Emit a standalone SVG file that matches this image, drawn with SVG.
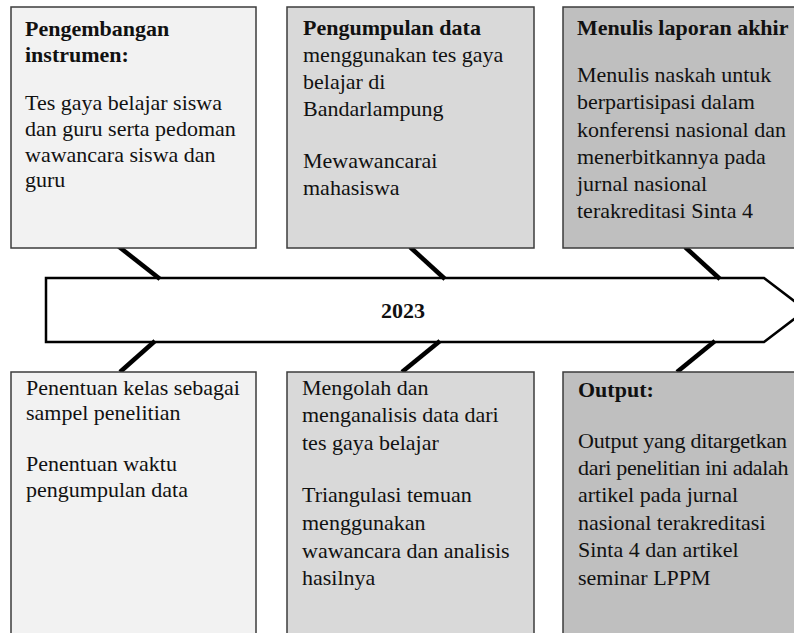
<svg xmlns="http://www.w3.org/2000/svg" width="794" height="633" viewBox="0 0 794 633">
<style>
  .box{stroke:#3c3c3c;stroke-width:1.5}
  .b1{fill:#f2f2f2}.b2{fill:#d9d9d9}.b3{fill:#bfbfbf}
  text{font-family:"Liberation Serif","Times New Roman",serif;font-size:22px;fill:#111}
  .h{font-weight:bold}
  .conn line{stroke:#000;stroke-width:4.5}
</style>
<rect width="794" height="633" fill="#fff"/>
<g id="arrow">
  <polygon points="46,278 764,278 806,310 764,342 46,342" fill="#fff" stroke="#000" stroke-width="2.5" stroke-linejoin="miter"/>
  <text x="403" y="318" text-anchor="middle" class="h">2023</text>
</g>
<g class="conn" id="connectors">
  <line x1="118" y1="246" x2="160" y2="279"/>
  <line x1="410" y1="247" x2="445" y2="279"/>
  <line x1="685" y1="247" x2="720" y2="279"/>
  <line x1="155" y1="341" x2="120" y2="372"/>
  <line x1="440" y1="341" x2="402" y2="372"/>
  <line x1="715" y1="341" x2="677" y2="372"/>
</g>
<g id="top1">
  <rect class="box b1" x="11" y="7" width="245" height="241"/>
  <text class="h" x="25" y="36">Pengembangan</text>
  <text class="h" x="25" y="62">instrumen:</text>
  <text x="25" y="110">Tes gaya belajar siswa</text>
  <text x="25" y="136">dan guru serta pedoman</text>
  <text x="25" y="162">wawancara siswa dan</text>
  <text x="25" y="187">guru</text>
</g>
<g id="top2">
  <rect class="box b2" x="287" y="7" width="247" height="241"/>
  <text class="h" x="303" y="35">Pengumpulan data</text>
  <text x="303" y="62">menggunakan tes gaya</text>
  <text x="303" y="89">belajar di</text>
  <text x="303" y="116">Bandarlampung</text>
  <text x="303" y="168">Mewawancarai</text>
  <text x="303" y="195">mahasiswa</text>
</g>
<g id="top3">
  <rect class="box b3" x="563" y="7" width="240" height="241"/>
  <text class="h" x="577" y="35">Menulis laporan akhir</text>
  <text x="577" y="82">Menulis naskah untuk</text>
  <text x="577" y="109">berpartisipasi dalam</text>
  <text x="577" y="137">konferensi nasional dan</text>
  <text x="577" y="164">menerbitkannya pada</text>
  <text x="577" y="191">jurnal nasional</text>
  <text x="577" y="218">terakreditasi Sinta 4</text>
</g>
<g id="bottom1">
  <rect class="box b1" x="11" y="372" width="245" height="270"/>
  <text x="26" y="395">Penentuan kelas sebagai</text>
  <text x="26" y="420">sampel penelitian</text>
  <text x="26" y="471">Penentuan waktu</text>
  <text x="26" y="497">pengumpulan data</text>
</g>
<g id="bottom2">
  <rect class="box b2" x="287" y="372" width="247" height="270"/>
  <text x="302" y="395">Mengolah dan</text>
  <text x="302" y="422">menganalisis data dari</text>
  <text x="302" y="450">tes gaya belajar</text>
  <text x="302" y="502">Triangulasi temuan</text>
  <text x="302" y="530">menggunakan</text>
  <text x="302" y="558">wawancara dan analisis</text>
  <text x="302" y="585">hasilnya</text>
</g>
<g id="bottom3">
  <rect class="box b3" x="563" y="372" width="240" height="270"/>
  <text class="h" x="578" y="397">Output:</text>
  <text x="578" y="448" letter-spacing="-0.2">Output yang ditargetkan</text>
  <text x="578" y="475" letter-spacing="-0.3">dari penelitian ini adalah</text>
  <text x="578" y="502">artikel pada jurnal</text>
  <text x="578" y="530">nasional terakreditasi</text>
  <text x="578" y="557">Sinta 4 dan artikel</text>
  <text x="578" y="585">seminar LPPM</text>
</g>
</svg>
